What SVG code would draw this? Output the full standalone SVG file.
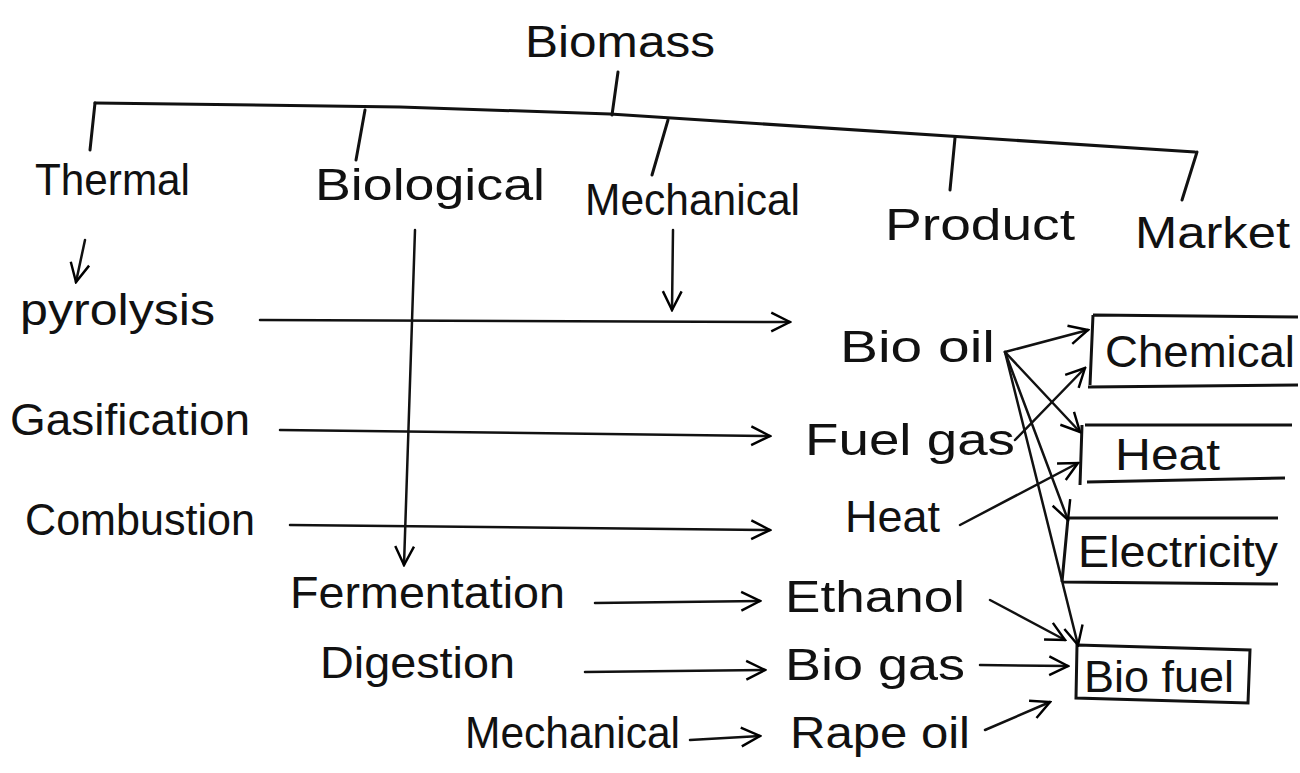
<svg xmlns="http://www.w3.org/2000/svg" width="1300" height="773" viewBox="0 0 1300 773">
<defs>
<marker id="ah" viewBox="0 0 12 12" refX="11" refY="6" markerWidth="9" markerHeight="9" orient="auto" markerUnits="strokeWidth">
<path d="M1,1 L11,6 L1,11" fill="none" stroke="#000" stroke-width="1.3"/>
</marker>
</defs>
<style>
.t{font-family:"Liberation Sans",Arial,sans-serif;font-size:44px;fill:#111}
.ln{stroke:#111;stroke-width:3;fill:none;stroke-linecap:round}
.ar{stroke:#111;stroke-width:2.5;fill:none;stroke-linecap:round;marker-end:url(#ah)}
.bx{stroke:#111;stroke-width:3;fill:none}
</style>
<rect width="1300" height="773" fill="#fff"/>

<g id="biomass"><text class="t" x="525" y="57" textLength="190" lengthAdjust="spacingAndGlyphs">Biomass</text></g>
<g id="thermal"><text class="t" x="35" y="195" textLength="155" lengthAdjust="spacingAndGlyphs">Thermal</text></g>
<g id="biological"><text class="t" x="315" y="200" textLength="230" lengthAdjust="spacingAndGlyphs">Biological</text></g>
<g id="mechanical-top"><text class="t" x="585" y="215" textLength="215" lengthAdjust="spacingAndGlyphs">Mechanical</text></g>
<g id="product"><text class="t" x="885" y="240" textLength="190" lengthAdjust="spacingAndGlyphs">Product</text></g>
<g id="market"><text class="t" x="1135" y="248" textLength="155" lengthAdjust="spacingAndGlyphs">Market</text></g>

<g id="pyrolysis"><text class="t" x="20" y="325" textLength="195" lengthAdjust="spacingAndGlyphs">pyrolysis</text></g>
<g id="gasification"><text class="t" x="10" y="435" textLength="240" lengthAdjust="spacingAndGlyphs">Gasification</text></g>
<g id="combustion"><text class="t" x="25" y="535" textLength="230" lengthAdjust="spacingAndGlyphs">Combustion</text></g>
<g id="fermentation"><text class="t" x="290" y="608" textLength="275" lengthAdjust="spacingAndGlyphs">Fermentation</text></g>
<g id="digestion"><text class="t" x="320" y="678" textLength="195" lengthAdjust="spacingAndGlyphs">Digestion</text></g>
<g id="mechanical-bottom"><text class="t" x="465" y="748" textLength="215" lengthAdjust="spacingAndGlyphs">Mechanical</text></g>

<g id="bio-oil"><text class="t" x="840" y="362" textLength="155" lengthAdjust="spacingAndGlyphs">Bio oil</text></g>
<g id="fuel-gas"><text class="t" x="805" y="455" textLength="210" lengthAdjust="spacingAndGlyphs">Fuel gas</text></g>
<g id="heat-product"><text class="t" x="845" y="532" textLength="95" lengthAdjust="spacingAndGlyphs">Heat</text></g>
<g id="ethanol"><text class="t" x="785" y="612" textLength="180" lengthAdjust="spacingAndGlyphs">Ethanol</text></g>
<g id="bio-gas"><text class="t" x="785" y="680" textLength="180" lengthAdjust="spacingAndGlyphs">Bio gas</text></g>
<g id="rape-oil"><text class="t" x="790" y="748" textLength="180" lengthAdjust="spacingAndGlyphs">Rape oil</text></g>

<g id="chemical"><path class="bx" d="M1093,315 L1298,317 M1093,315 L1090,385 M1088,387 L1298,385"/><text class="t" x="1105" y="367" textLength="190" lengthAdjust="spacingAndGlyphs">Chemical</text></g>
<g id="heat-market"><path class="bx" d="M1085,425 L1292,425 M1082,425 L1080,485 M1087,482 L1285,478"/><text class="t" x="1115" y="470" textLength="105" lengthAdjust="spacingAndGlyphs">Heat</text></g>
<g id="electricity"><path class="bx" d="M1068,518 L1278,518 M1068,518 L1062,582 M1062,582 L1278,584"/><text class="t" x="1078" y="567" textLength="200" lengthAdjust="spacingAndGlyphs">Electricity</text></g>
<g id="biofuel"><path class="bx" d="M1077,645 L1250,650 L1248,703 L1076,698 Z"/><text class="t" x="1084" y="692" textLength="150" lengthAdjust="spacingAndGlyphs">Bio fuel</text></g>

<g id="connectors">
<path class="ln" d="M618,72 L612,115"/>
<path class="ln" d="M95,103 L400,107 L610,114 L1195,152"/>
<path class="ln" d="M95,103 L90,150"/>
<path class="ln" d="M365,110 L356,160"/>
<path class="ln" d="M668,120 L652,175"/>
<path class="ln" d="M955,138 L950,190"/>
<path class="ln" d="M1197,152 L1182,200"/>
<path class="ar" d="M85,240 L76,282"/>
<path class="ar" d="M673,230 L672,310"/>
<path class="ar" d="M415,230 L404,565"/>
<path class="ar" d="M260,320 L790,322"/>
<path class="ar" d="M280,430 L770,436"/>
<path class="ar" d="M290,525 L770,530"/>
<path class="ar" d="M595,603 L760,601"/>
<path class="ar" d="M585,672 L765,670"/>
<path class="ar" d="M690,740 L760,736"/>
<path class="ar" d="M1005,352 L1088,330"/>
<path class="ar" d="M1005,352 L1080,432"/>
<path class="ar" d="M1005,352 L1068,520"/>
<path class="ar" d="M1005,352 L1078,645"/>
<path class="ar" d="M1015,440 L1085,368"/>
<path class="ar" d="M960,525 L1078,463"/>
<path class="ar" d="M990,600 L1065,640"/>
<path class="ar" d="M980,665 L1068,666"/>
<path class="ar" d="M985,730 L1050,702"/>
</g>
</svg>
